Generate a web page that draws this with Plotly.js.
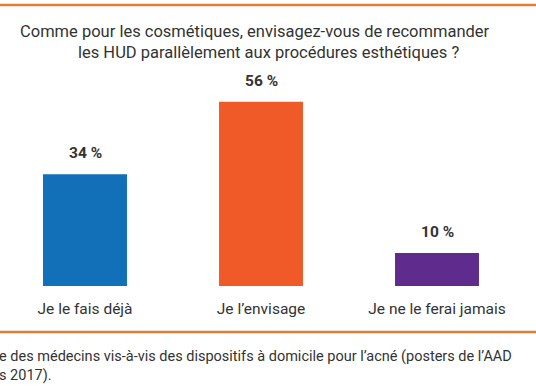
<!DOCTYPE html>
<html><head><meta charset="utf-8">
<script src="https://cdn.plot.ly/plotly-3.0.1.min.js"></script>
<style>html,body{margin:0;padding:0;background:#fff}#c{width:536px;height:386px}</style>
</head><body><div id="c"></div>
<script>
const categories = ["Je le fais déjà", "Je l’envisage", "Je ne le ferai jamais"];
const values = [34, 56, 10];
const valueLabels = ["34 %", "56 %", "10 %"];
const barColors = ["#1170B8", "#F05A29", "#5F2C8E"];
const titleLines = ["Comme pour les cosmétiques, envisagez-vous de recommander", "les HUD parallèlement aux procédures esthétiques ?"];
const captionLines = ["e des médecins vis-à-vis des dispositifs à domicile pour l’acné (posters de l’AAD", "s 2017)."];

const H = 386, T = 80, B = 100, PH = H - T - B;
const py = p => (H - B - p) / PH;
const FONT = "Roboto, 'DejaVu Sans', sans-serif";
const TXT = "#333333";
const LINE = "#E07B3A";

const annotations = categories.map((c, i) => ({
  x: c, y: values[i], xref: "x", yref: "y", text: "<b>" + valueLabels[i] + "</b>",
  showarrow: false, yanchor: "bottom", yshift: 10,
  font: {family: FONT, size: 15.5, color: TXT}
}));
titleLines.forEach((t, i) => annotations.push({
  x: i === 0 ? 0.476 : 0.5, xref: "paper", xanchor: "center",
  y: py(31 + i * 21), yref: "paper", yanchor: "middle",
  text: t, showarrow: false, font: {family: FONT, size: 16.5, color: TXT}
}));
annotations.push({
  x: 0, xref: "paper", xanchor: "left", xshift: -3, align: "left",
  y: py(366), yref: "paper", yanchor: "middle",
  text: captionLines.join("<br>"), showarrow: false, font: {family: FONT, size: 14.5, color: TXT}
});

Plotly.newPlot("c", [{
  type: "bar", x: categories, y: values, width: 0.477,
  marker: {color: barColors}, hoverinfo: "none"
}], {
  width: 536, height: 386,
  margin: {l: 0, r: 0, t: T, b: B},
  paper_bgcolor: "#fff", plot_bgcolor: "#fff",
  xaxis: {range: [-0.483, 2.5625], showgrid: false, zeroline: false, showline: false,
          ticks: "", ticklabelstandoff: 11, tickfont: {family: FONT, size: 15.5, color: TXT}, fixedrange: true},
  yaxis: {range: [0, PH / 3.29], visible: false, fixedrange: true},
  showlegend: false,
  annotations: annotations,
  shapes: [
    {type: "line", xref: "paper", yref: "paper", x0: 0, x1: 1, y0: py(5), y1: py(5), line: {color: LINE, width: 2.5}},
    {type: "line", xref: "paper", yref: "paper", x0: 0, x1: 1, y0: py(332), y1: py(332), line: {color: LINE, width: 2.5}}
  ]
}, {staticPlot: true});
</script></body></html>
